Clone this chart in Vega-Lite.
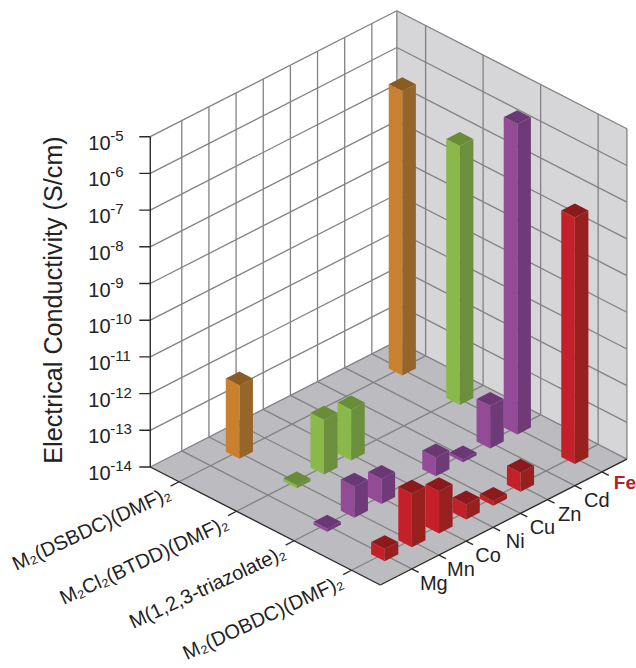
{
"$schema":"https://vega.github.io/schema/vega-lite/v6.json",
"width":636,"height":668,"padding":0,"autosize":{"type":"fit","contains":"padding"},"background":"white",
"config":{"view":{"stroke":null},"text":{"font":"Liberation Sans","color":"#222222"}},
"resolve":{"scale":{"fill":"independent"}},
"datasets":{
"bars":[
{"series":"orange","si":0,"mi":7,"logS":-6.25},
{"series":"green","si":1,"mi":7,"logS":-6.94},
{"series":"purple","si":2,"mi":7,"logS":-5.54},
{"series":"purple","si":2,"mi":6,"logS":-12.84},
{"series":"orange","si":0,"mi":1,"logS":-12.0},
{"series":"green","si":1,"mi":3,"logS":-12.61},
{"series":"purple","si":2,"mi":5,"logS":-13.92},
{"series":"red","si":3,"mi":7,"logS":-7.28},
{"series":"green","si":1,"mi":2,"logS":-12.51},
{"series":"purple","si":2,"mi":4,"logS":-13.49},
{"series":"green","si":1,"mi":1,"logS":-13.92},
{"series":"red","si":3,"mi":5,"logS":-13.48},
{"series":"purple","si":2,"mi":2,"logS":-13.32},
{"series":"red","si":3,"mi":4,"logS":-13.87},
{"series":"purple","si":2,"mi":1,"logS":-13.15},
{"series":"red","si":3,"mi":3,"logS":-13.59},
{"series":"purple","si":2,"mi":0,"logS":-13.92},
{"series":"red","si":3,"mi":2,"logS":-12.85},
{"series":"red","si":3,"mi":1,"logS":-12.54},
{"series":"red","si":3,"mi":0,"logS":-13.67}
],
"planes":[
{"part":"a-left","k":0,"s":-0.5,"m":-1.16,"z":-14},{"part":"a-left","k":1,"s":-0.5,"m":7.92,"z":-14},{"part":"a-left","k":2,"s":-0.5,"m":7.92,"z":-5},{"part":"a-left","k":3,"s":-0.5,"m":-1.16,"z":-5},
{"part":"b-right","k":0,"s":-0.5,"m":7.92,"z":-14},{"part":"b-right","k":1,"s":3.5,"m":7.92,"z":-14},{"part":"b-right","k":2,"s":3.5,"m":7.92,"z":-5},{"part":"b-right","k":3,"s":-0.5,"m":7.92,"z":-5},
{"part":"c-floor","k":0,"s":-0.5,"m":-1.16,"z":-14},{"part":"c-floor","k":1,"s":3.5,"m":-1.16,"z":-14},{"part":"c-floor","k":2,"s":3.5,"m":7.92,"z":-14},{"part":"c-floor","k":3,"s":-0.5,"m":7.92,"z":-14}
],
"grid":[
{"s":-0.5,"m":0,"z":-14,"s2":-0.5,"m2":0,"z2":-5},{"s":-0.5,"m":1,"z":-14,"s2":-0.5,"m2":1,"z2":-5},{"s":-0.5,"m":2,"z":-14,"s2":-0.5,"m2":2,"z2":-5},{"s":-0.5,"m":3,"z":-14,"s2":-0.5,"m2":3,"z2":-5},{"s":-0.5,"m":4,"z":-14,"s2":-0.5,"m2":4,"z2":-5},{"s":-0.5,"m":5,"z":-14,"s2":-0.5,"m2":5,"z2":-5},{"s":-0.5,"m":6,"z":-14,"s2":-0.5,"m2":6,"z2":-5},{"s":-0.5,"m":7,"z":-14,"s2":-0.5,"m2":7,"z2":-5},
{"s":-0.5,"m":7.92,"z":-14,"s2":-0.5,"m2":7.92,"z2":-5},
{"s":0,"m":7.92,"z":-14,"s2":0,"m2":7.92,"z2":-5},{"s":1,"m":7.92,"z":-14,"s2":1,"m2":7.92,"z2":-5},{"s":2,"m":7.92,"z":-14,"s2":2,"m2":7.92,"z2":-5},{"s":3,"m":7.92,"z":-14,"s2":3,"m2":7.92,"z2":-5},{"s":3.5,"m":7.92,"z":-14,"s2":3.5,"m2":7.92,"z2":-5},
{"s":-0.5,"m":-1.16,"z":-13,"s2":-0.5,"m2":7.92,"z2":-13},{"s":-0.5,"m":-1.16,"z":-12,"s2":-0.5,"m2":7.92,"z2":-12},{"s":-0.5,"m":-1.16,"z":-11,"s2":-0.5,"m2":7.92,"z2":-11},{"s":-0.5,"m":-1.16,"z":-10,"s2":-0.5,"m2":7.92,"z2":-10},{"s":-0.5,"m":-1.16,"z":-9,"s2":-0.5,"m2":7.92,"z2":-9},{"s":-0.5,"m":-1.16,"z":-8,"s2":-0.5,"m2":7.92,"z2":-8},{"s":-0.5,"m":-1.16,"z":-7,"s2":-0.5,"m2":7.92,"z2":-7},{"s":-0.5,"m":-1.16,"z":-6,"s2":-0.5,"m2":7.92,"z2":-6},{"s":-0.5,"m":-1.16,"z":-5,"s2":-0.5,"m2":7.92,"z2":-5},
{"s":-0.5,"m":7.92,"z":-13,"s2":3.5,"m2":7.92,"z2":-13},{"s":-0.5,"m":7.92,"z":-12,"s2":3.5,"m2":7.92,"z2":-12},{"s":-0.5,"m":7.92,"z":-11,"s2":3.5,"m2":7.92,"z2":-11},{"s":-0.5,"m":7.92,"z":-10,"s2":3.5,"m2":7.92,"z2":-10},{"s":-0.5,"m":7.92,"z":-9,"s2":3.5,"m2":7.92,"z2":-9},{"s":-0.5,"m":7.92,"z":-8,"s2":3.5,"m2":7.92,"z2":-8},{"s":-0.5,"m":7.92,"z":-7,"s2":3.5,"m2":7.92,"z2":-7},{"s":-0.5,"m":7.92,"z":-6,"s2":3.5,"m2":7.92,"z2":-6},{"s":-0.5,"m":7.92,"z":-5,"s2":3.5,"m2":7.92,"z2":-5},
{"s":0,"m":-1.16,"z":-14,"s2":0,"m2":7.92,"z2":-14},{"s":1,"m":-1.16,"z":-14,"s2":1,"m2":7.92,"z2":-14},{"s":2,"m":-1.16,"z":-14,"s2":2,"m2":7.92,"z2":-14},{"s":3,"m":-1.16,"z":-14,"s2":3,"m2":7.92,"z2":-14},
{"s":-0.5,"m":0,"z":-14,"s2":3.5,"m2":0,"z2":-14},{"s":-0.5,"m":1,"z":-14,"s2":3.5,"m2":1,"z2":-14},{"s":-0.5,"m":2,"z":-14,"s2":3.5,"m2":2,"z2":-14},{"s":-0.5,"m":3,"z":-14,"s2":3.5,"m2":3,"z2":-14},{"s":-0.5,"m":4,"z":-14,"s2":3.5,"m2":4,"z2":-14},{"s":-0.5,"m":5,"z":-14,"s2":3.5,"m2":5,"z2":-14},{"s":-0.5,"m":6,"z":-14,"s2":3.5,"m2":6,"z2":-14},{"s":-0.5,"m":7,"z":-14,"s2":3.5,"m2":7,"z2":-14},
{"s":-0.5,"m":7.92,"z":-14,"s2":3.5,"m2":7.92,"z2":-14},{"s":-0.5,"m":7.92,"z":-14,"s2":-0.5,"m2":-1.16,"z2":-14}
],
"axes":[
{"s":-0.5,"m":-1.16,"z":-14,"s2":-0.5,"m2":-1.16,"z2":-5},
{"s":-0.5,"m":-1.16,"z":-14,"s2":3.5,"m2":-1.16,"z2":-14},
{"s":3.5,"m":-1.16,"z":-14,"s2":3.5,"m2":7.92,"z2":-14},
{"s":-0.5,"m":-1.16,"z":-14,"s2":-0.595,"m2":-1.363,"z2":-14},{"s":-0.5,"m":-1.16,"z":-13,"s2":-0.595,"m2":-1.363,"z2":-13},{"s":-0.5,"m":-1.16,"z":-12,"s2":-0.595,"m2":-1.363,"z2":-12},{"s":-0.5,"m":-1.16,"z":-11,"s2":-0.595,"m2":-1.363,"z2":-11},{"s":-0.5,"m":-1.16,"z":-10,"s2":-0.595,"m2":-1.363,"z2":-10},{"s":-0.5,"m":-1.16,"z":-9,"s2":-0.595,"m2":-1.363,"z2":-9},{"s":-0.5,"m":-1.16,"z":-8,"s2":-0.595,"m2":-1.363,"z2":-8},{"s":-0.5,"m":-1.16,"z":-7,"s2":-0.595,"m2":-1.363,"z2":-7},{"s":-0.5,"m":-1.16,"z":-6,"s2":-0.595,"m2":-1.363,"z2":-6},{"s":-0.5,"m":-1.16,"z":-5,"s2":-0.595,"m2":-1.363,"z2":-5},
{"s":0,"m":-1.16,"z":-14,"s2":0,"m2":-1.47,"z2":-14},{"s":1,"m":-1.16,"z":-14,"s2":1,"m2":-1.47,"z2":-14},{"s":2,"m":-1.16,"z":-14,"s2":2,"m2":-1.47,"z2":-14},{"s":3,"m":-1.16,"z":-14,"s2":3,"m2":-1.47,"z2":-14},
{"s":3.5,"m":0,"z":-14,"s2":3.62,"m2":0,"z2":-14},{"s":3.5,"m":1,"z":-14,"s2":3.62,"m2":1,"z2":-14},{"s":3.5,"m":2,"z":-14,"s2":3.62,"m2":2,"z2":-14},{"s":3.5,"m":3,"z":-14,"s2":3.62,"m2":3,"z2":-14},{"s":3.5,"m":4,"z":-14,"s2":3.62,"m2":4,"z2":-14},{"s":3.5,"m":5,"z":-14,"s2":3.62,"m2":5,"z2":-14},{"s":3.5,"m":6,"z":-14,"s2":3.62,"m2":6,"z2":-14},{"s":3.5,"m":7,"z":-14,"s2":3.62,"m2":7,"z2":-14}
],
"ticks":[{"base":"10","exp":"-5","z":-5},{"base":"10","exp":"-6","z":-6},{"base":"10","exp":"-7","z":-7},{"base":"10","exp":"-8","z":-8},{"base":"10","exp":"-9","z":-9},{"base":"10","exp":"-10","z":-10},{"base":"10","exp":"-11","z":-11},{"base":"10","exp":"-12","z":-12},{"base":"10","exp":"-13","z":-13},{"base":"10","exp":"-14","z":-14}],
"metals":[{"name":"Mg","m":0},{"name":"Mn","m":1},{"name":"Co","m":2},{"name":"Ni","m":3},{"name":"Cu","m":4},{"name":"Zn","m":5},{"name":"Cd","m":6}],
"metalsHighlight":[{"name":"Fe","m":7}],
"seriesNames":[{"name":"M₂(DSBDC)(DMF)₂","s":0},{"name":"M₂Cl₂(BTDD)(DMF)₂","s":1},{"name":"M(1,2,3-triazolate)₂","s":2},{"name":"M₂(DOBDC)(DMF)₂","s":3}],
"title":[{"name":"Electrical Conductivity (S/cm)","z":-9.45}]
},
"encoding":{
"x":{"field":"X","type":"quantitative","scale":{"domain":[0,636],"nice":false,"zero":false},"axis":null},
"y":{"field":"Y","type":"quantitative","scale":{"domain":[668,0],"nice":false,"zero":false},"axis":null}
},
"layer":[
{"data":{"name":"planes"},
"transform":[{"calculate":"150.5+57.6*(datum.s+0.5)+27.2*(datum.m+1.16)","as":"X"},{"calculate":"467+29.5*(datum.s+0.5)-13.87*(datum.m+1.16)-36.7*(datum.z+14)","as":"Y"}],
"mark":{"type":"line","filled":true,"strokeWidth":0},
"encoding":{"fill":{"field":"part","type":"nominal","scale":{"domain":["a-left","b-right","c-floor"],"range":["#FFFFFF","#D6D6D9","#BCBCC0"]},"legend":null},"detail":{"field":"part"},"order":{"field":"k","type":"quantitative"}}},
{"data":{"name":"grid"},
"transform":[{"calculate":"150.5+57.6*(datum.s+0.5)+27.2*(datum.m+1.16)","as":"X"},{"calculate":"467+29.5*(datum.s+0.5)-13.87*(datum.m+1.16)-36.7*(datum.z+14)","as":"Y"},{"calculate":"150.5+57.6*(datum.s2+0.5)+27.2*(datum.m2+1.16)","as":"X2"},{"calculate":"467+29.5*(datum.s2+0.5)-13.87*(datum.m2+1.16)-36.7*(datum.z2+14)","as":"Y2"}],
"mark":{"type":"rule","color":"#828284","strokeWidth":1.3},
"encoding":{"x2":{"field":"X2"},"y2":{"field":"Y2"}}},
{"data":{"name":"axes"},
"transform":[{"calculate":"150.5+57.6*(datum.s+0.5)+27.2*(datum.m+1.16)","as":"X"},{"calculate":"467+29.5*(datum.s+0.5)-13.87*(datum.m+1.16)-36.7*(datum.z+14)","as":"Y"},{"calculate":"150.5+57.6*(datum.s2+0.5)+27.2*(datum.m2+1.16)","as":"X2"},{"calculate":"467+29.5*(datum.s2+0.5)-13.87*(datum.m2+1.16)-36.7*(datum.z2+14)","as":"Y2"}],
"mark":{"type":"rule","color":"#2B2B2B","strokeWidth":1.4},
"encoding":{"x2":{"field":"X2"},"y2":{"field":"Y2"}}},
{"data":{"name":"bars"},
"transform":[
{"calculate":"[0,1,2]","as":"f"},{"flatten":["f"]},
{"calculate":"[0,1,2,3]","as":"k"},{"flatten":["k"]},
{"calculate":"datum.si+'-'+datum.mi+'-'+datum.f","as":"id"},
{"calculate":"datum.series+'-'+datum.f","as":"part"},
{"calculate":"[[-1,1,1,-1],[1,1,1,1],[-1,1,1,-1]][datum.f][datum.k]","as":"ds"},
{"calculate":"[[-1,-1,-1,-1],[-1,1,1,-1],[-1,-1,1,1]][datum.f][datum.k]","as":"dm"},
{"calculate":"[[0,0,1,1],[0,0,1,1],[1,1,1,1]][datum.f][datum.k]","as":"up"},
{"calculate":"datum.si+0.015+0.118*datum.ds","as":"s"},
{"calculate":"datum.mi+0.03+0.25*datum.dm","as":"m"},
{"calculate":"datum.up==1?datum.logS:-14","as":"z"},
{"calculate":"150.5+57.6*(datum.s+0.5)+27.2*(datum.m+1.16)","as":"X"},
{"calculate":"467+29.5*(datum.s+0.5)-13.87*(datum.m+1.16)-36.7*(datum.z+14)","as":"Y"}],
"mark":{"type":"line","filled":true,"strokeWidth":0},
"encoding":{"fill":{"field":"part","type":"nominal","scale":{"domain":["orange-0","orange-1","orange-2","green-0","green-1","green-2","purple-0","purple-1","purple-2","red-0","red-1","red-2"],"range":["#C9812F","#96652A","#8A5C25","#8BB84B","#6C8F3E","#688C37","#934B98","#6E3B78","#6C3775","#C4202A","#98201F","#8C1A1C"]},"legend":null},"detail":{"field":"id"},"order":{"field":"k","type":"quantitative"}}},
{"data":{"name":"ticks"},
"transform":[{"calculate":"150.5","as":"X"},{"calculate":"467-36.7*(datum.z+14)","as":"Y"}],
"mark":{"type":"text","align":"left","baseline":"alphabetic","fontSize":20,"dx":-62,"dy":13},
"encoding":{"text":{"field":"base"}}},
{"data":{"name":"ticks"},
"transform":[{"calculate":"150.5","as":"X"},{"calculate":"467-36.7*(datum.z+14)","as":"Y"}],
"mark":{"type":"text","align":"left","baseline":"alphabetic","fontSize":15,"dx":-40,"dy":4},
"encoding":{"text":{"field":"exp"}}},
{"data":{"name":"metals"},
"transform":[{"calculate":"150.5+57.6*4+27.2*(datum.m+1.16)","as":"X"},{"calculate":"467+29.5*4-13.87*(datum.m+1.16)","as":"Y"}],
"mark":{"type":"text","align":"center","baseline":"alphabetic","fontSize":20,"dx":22,"dy":21},
"encoding":{"text":{"field":"name"}}},
{"data":{"name":"metalsHighlight"},
"transform":[{"calculate":"150.5+57.6*4+27.2*(datum.m+1.16)","as":"X"},{"calculate":"467+29.5*4-13.87*(datum.m+1.16)","as":"Y"}],
"mark":{"type":"text","align":"center","baseline":"alphabetic","fontSize":19,"fontWeight":"bold","color":"#B5202B","dx":23,"dy":17},
"encoding":{"text":{"field":"name"}}},
{"data":{"name":"seriesNames"},
"transform":[{"calculate":"150.5+57.6*(datum.s+0.5)","as":"X"},{"calculate":"467+29.5*(datum.s+0.5)","as":"Y"}],
"mark":{"type":"text","align":"right","baseline":"alphabetic","fontSize":20,"angle":335,"dx":-13,"dy":12},
"encoding":{"text":{"field":"name"}}},
{"data":{"name":"title"},
"transform":[{"calculate":"150.5","as":"X"},{"calculate":"467-36.7*(datum.z+14)","as":"Y"}],
"mark":{"type":"text","align":"center","baseline":"alphabetic","fontSize":25.2,"angle":270,"dy":-88},
"encoding":{"text":{"field":"name"}}}
]
}
